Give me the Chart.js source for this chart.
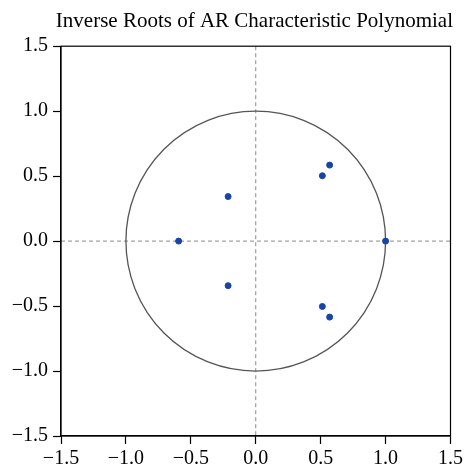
<!DOCTYPE html>
<html>
<head>
<meta charset="utf-8">
<script src="https://cdn.jsdelivr.net/npm/chart.js@4"></script>
<style>
  html, body { margin: 0; padding: 0; background: #fff; }
  #wrap { width: 466px; height: 469px; }
</style>
</head>
<body>
<div id="wrap"><canvas id="roots"></canvas></div>
<script>
// inverse roots (real, imaginary)
const rootsRe = [1.0, -0.594, -0.213, -0.213, 0.513, 0.513, 0.569, 0.569];
const rootsIm = [0.0, 0.0, 0.343, -0.343, 0.503, -0.503, 0.585, -0.585];
const axisMin = -1.5;
const axisMax = 1.5;
const tickStep = 0.5;
const unitRadius = 1;

const fmt = v => v.toFixed(1).replace('-', '\u2212');

// unit circle, zero lines and frame, all placed through the scales
const overlay = {
    id: 'overlay',
    beforeDatasetsDraw(chart) {
        const { ctx, chartArea: a, scales: { x, y } } = chart;
        const cx = x.getPixelForValue(0);
        const cy = y.getPixelForValue(0);
        ctx.save();
        ctx.strokeStyle = '#8a8a8a';
        ctx.lineWidth = 1;
        ctx.setLineDash([4, 3]);
        ctx.beginPath();
        ctx.moveTo(cx, a.top); ctx.lineTo(cx, a.bottom);
        ctx.moveTo(a.left, cy); ctx.lineTo(a.right, cy);
        ctx.stroke();
        ctx.setLineDash([]);
        ctx.strokeStyle = '#555';
        ctx.lineWidth = 1.3;
        ctx.beginPath();
        ctx.ellipse(cx, cy,
            x.getPixelForValue(unitRadius) - cx,
            cy - y.getPixelForValue(unitRadius), 0, 0, Math.PI * 2);
        ctx.stroke();
        ctx.strokeStyle = '#000';
        ctx.lineWidth = 1.2;
        ctx.strokeRect(a.left, a.top, a.right - a.left, a.bottom - a.top);
        ctx.restore();
    }
};

const tickFont = { family: "'Liberation Serif', serif", size: 20 };

new Chart(document.getElementById('roots'), {
    type: 'scatter',
    data: {
        datasets: [{
            data: rootsRe.map((r, i) => ({ x: r, y: rootsIm[i] })),
            backgroundColor: '#1744a8',
            borderColor: '#1744a8',
            pointRadius: 3,
            pointHoverRadius: 3
        }]
    },
    options: {
        responsive: true,
        maintainAspectRatio: false,
        animation: false,
        layout: { padding: { right: 13 } },
        plugins: {
            legend: { display: false },
            tooltip: { enabled: false },
            title: {
                display: true,
                align: 'end',
                text: 'Inverse Roots of AR Characteristic Polynomial',
                color: '#000',
                font: { family: "'Liberation Serif', serif", size: 21, weight: 'normal' },
                padding: { top: 9, bottom: 12 }
            }
        },
        scales: {
            x: {
                min: axisMin, max: axisMax,
                afterFit: s => { s.height = 33; },
                ticks: { stepSize: tickStep, color: '#000', font: tickFont, padding: 3, maxRotation: 0, callback: fmt },
                grid: { drawOnChartArea: false, color: '#000', tickLength: 8, tickWidth: 1.2 },
                border: { color: '#000', width: 1.2 }
            },
            y: {
                min: axisMin, max: axisMax,
                afterFit: s => { s.width = 61; },
                ticks: { stepSize: tickStep, color: '#000', font: tickFont, padding: 5, callback: fmt },
                grid: { drawOnChartArea: false, color: '#000', tickLength: 8, tickWidth: 1.2 },
                border: { color: '#000', width: 1.2 }
            }
        }
    },
    plugins: [overlay]
});
</script>
</body>
</html>
